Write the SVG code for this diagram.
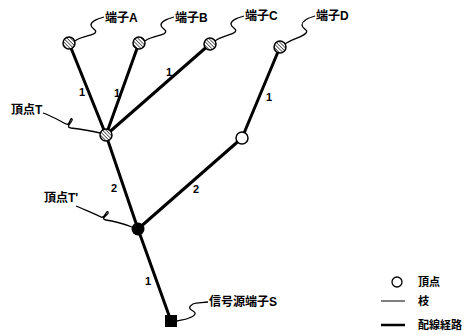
<svg xmlns="http://www.w3.org/2000/svg" width="474" height="335" viewBox="0 0 474 335">
<style>
.edge{stroke:#000;stroke-width:3;stroke-linecap:round;fill:none}
.lead{stroke:#000;stroke-width:1.3;fill:none}
.hn{fill:url(#hatch);stroke:#000;stroke-width:1.5}
.lbl{font-family:"Liberation Sans","Noto Sans CJK JP",sans-serif;font-size:12px;font-weight:bold;fill:#000}
.num{font-family:"Liberation Sans",sans-serif;font-size:11px;font-weight:bold;fill:#000}
.leg{font-family:"Liberation Sans","Noto Sans CJK JP",sans-serif;font-size:11px;font-weight:bold;fill:#000}
</style>
<defs>
<pattern id="hatch" width="2.5" height="2.5" patternUnits="userSpaceOnUse" patternTransform="rotate(-45)">
<rect width="2.5" height="2.5" fill="#fff"/>
<line x1="0" y1="0" x2="0" y2="2.5" stroke="#000" stroke-width="1.2"/>
</pattern>
</defs>
<g id="connectors">
<line class="edge" x1="69" y1="43" x2="106" y2="135"/>
<line class="edge" x1="139" y1="43" x2="106" y2="135"/>
<line class="edge" x1="210" y1="44" x2="106" y2="135"/>
<line class="edge" x1="280" y1="47" x2="242" y2="138"/>
<line class="edge" x1="106" y1="135" x2="138" y2="229"/>
<line class="edge" x1="242" y1="138" x2="138" y2="229"/>
<line class="edge" x1="138" y1="229" x2="171" y2="321"/>
<text class="num" x="79" y="96">1</text>
<text class="num" x="114" y="97">1</text>
<text class="num" x="166" y="76">1</text>
<text class="num" x="266" y="101">1</text>
<text class="num" x="111" y="192">2</text>
<text class="num" x="193" y="193">2</text>
<text class="num" x="145" y="285">1</text>
</g>
<g id="leaders">
<path class="lead" d="M104,17 C97,19 91,21 91,25 C91,29 98,30 95,33 C92,36 82,36 75,41"/>
<path class="lead" d="M174,17 C167,19 161,21 161,25 C161,29 168,30 165,33 C162,36 152,36 145,41"/>
<path class="lead" d="M244,16 C237,18 231,20 231,24 C231,28 238,29 235,32 C232,35 222,36 215,41"/>
<path class="lead" d="M315,16 C308,18 302,21 302,25 C302,29 309,30 306,33 C303,37 292,39 285,44"/>
<path class="lead" d="M43,113 C52,116 60,121 66,124 C70,126 70,117 72,119 C74,121 64,127 71,128 C80,129 92,131 100,133"/>
<path class="lead" d="M76,206 C85,210 95,214 101,217 C105,219 106,210 108,212 C110,214 99,219 106,220 C114,221 124,224 132,227"/>
<path class="lead" d="M208,302 C202,303 197,302 193,304 C188,307 189,309 193,311 C197,313 195,316 189,318 C185,320 181,320 177,321"/>
</g>
<g id="terminal-A"><circle class="hn" cx="69" cy="43" r="6"/><text class="lbl" x="105" y="22">端子A</text></g>
<g id="terminal-B"><circle class="hn" cx="139" cy="43" r="6"/><text class="lbl" x="175" y="22">端子B</text></g>
<g id="terminal-C"><circle class="hn" cx="210" cy="44" r="6"/><text class="lbl" x="245" y="20">端子C</text></g>
<g id="terminal-D"><circle class="hn" cx="280" cy="47" r="6"/><text class="lbl" x="316" y="20">端子D</text></g>
<g id="vertex-T"><circle class="hn" cx="106" cy="135" r="6"/><text class="lbl" x="11" y="114">頂点T</text></g>
<g id="vertex-T2"><circle cx="138" cy="229" r="6.5" fill="#000"/><text class="lbl" x="44" y="202">頂点T'</text></g>
<g id="vertex-W"><circle cx="242" cy="138" r="6" fill="#fff" stroke="#000" stroke-width="1.5"/></g>
<g id="source-S"><rect x="165" y="315" width="12" height="12" fill="#000"/><text class="lbl" x="209" y="306">信号源端子S</text></g>
<g id="legend">
<circle cx="397" cy="282" r="5" fill="#fff" stroke="#000" stroke-width="1.3"/>
<text class="leg" x="418" y="286">頂点</text>
<line x1="381" y1="301" x2="405" y2="301" stroke="#000" stroke-width="1"/>
<text class="leg" x="418" y="305">枝</text>
<line x1="381" y1="325" x2="405" y2="325" stroke="#000" stroke-width="2.5"/>
<text class="leg" x="418" y="329">配線経路</text>
</g>
</svg>
